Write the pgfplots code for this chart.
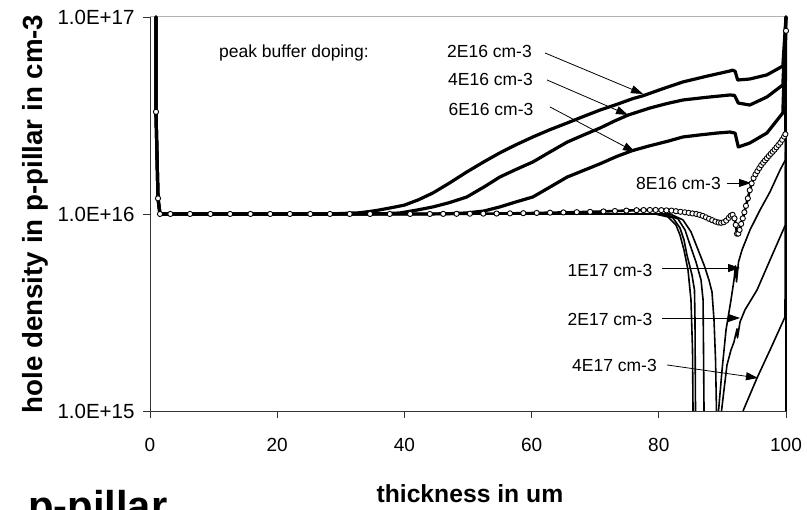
\documentclass[border=0pt]{standalone}
\usepackage{fontspec}
\setmainfont{Liberation Sans}
\usepackage{pgfplots}
\pgfplotsset{compat=1.18}
\usetikzlibrary{arrows.meta}

\newcommand\annfont{\fontsize{17.5bp}{20bp}\selectfont}
\newcommand\xtickfont{\fontsize{19bp}{22bp}\selectfont}
\newcommand\ytickfont{\fontsize{20.5bp}{23bp}\selectfont}
\tikzset{
  thickcurve/.style={black, line width=3.2bp, line join=round, line cap=round},
  thincurve/.style={black, line width=1.6bp, line join=round},
  callout/.style={black, line width=0.8bp, -{Triangle[length=12bp,width=8bp]}},
  calltext/.style={anchor=base, inner sep=0pt, font=\annfont},
}

\begin{document}
\begin{tikzpicture}
\useasboundingbox (0bp,0bp) rectangle (807bp,-510bp);
\begin{axis}[
  at={(150bp,-411bp)}, anchor=south west,
  scale only axis, width=636bp, height=394bp,
  xmin=0, xmax=100, ymin=1e15, ymax=1e17, ymode=log,
  clip=false,
  axis x line*=bottom, axis y line*=left,
  axis line style={black!80, line width=0.9bp},
  xtick={0,20,40,60,80,100}, xticklabels={0,20,40,60,80,100},
  ytick={1e15,1e16,1e17}, yticklabels={1.0E+15,1.0E+16,1.0E+17},
  yminorticks=false, xminorticks=false,
  tick align=outside, major tick length=7bp,
  tick style={black!80, line width=0.9bp},
  xticklabel style={font=\xtickfont, yshift=-17bp},
  yticklabel style={font=\ytickfont, xshift=-5bp},
  xlabel={thickness in um},
  ylabel={hole density in p-pillar in cm-3},
  xlabel style={font=\fontsize{24.7bp}{28bp}\selectfont\bfseries,
    at={(axis description cs:0.503,-0.2335)}, anchor=base},
  ylabel style={font=\fontsize{27.7bp}{30bp}\selectfont\bfseries,
    at={(axis description cs:-0.1698,0.5)}, anchor=base},
]

% frame line along the top of the plot area
\draw[gray!60, line width=1bp] (rel axis cs:0,1) -- (rel axis cs:1,1);

% --- high buffer doping: depletion below 1E15 near the buffer ---
% (unlabelled curve, depletes first)
\addplot[thincurve] coordinates {
 (0.94,1e17) (0.94,3.3e16) (1.26,1.2e16) (1.57,1e16) (79.4,1e16)
 (81.45,9.66e15) (82.70,8.79e15) (83.33,7.82e15) (83.96,6.56e15)
 (84.59,5.20e15) (85.06,3.66e15) (85.30,2.04e15) (85.38,1e15)};
\addplot[thincurve] coordinates {(100,1e15) (100,1e17)};

% 4E17 cm-3
\addplot[thincurve] coordinates {
 (0.94,1e17) (0.94,3.3e16) (1.26,1.2e16) (1.57,1e16) (80.19,1e16)
 (82.23,9.55e15) (83.33,8.49e15) (83.96,7.38e15) (84.43,6.19e15)
 (85.22,4.90e15) (85.61,4.11e15) (85.69,2.90e15) (85.77,1e15)};
\addplot[thincurve] coordinates {
 (93.24,1e15) (95.44,1.47e15) (97.64,2.09e15) (99.84,3.0e15) (100,1e17)};

% 2E17 cm-3
\addplot[thincurve] coordinates {
 (0.94,1e17) (0.94,3.3e16) (1.26,1.2e16) (1.57,1e16) (80.97,1e16)
 (83.02,9.44e15) (84.12,8.30e15) (84.91,6.97e15) (85.85,5.70e15)
 (86.64,4.62e15) (86.96,3.66e15) (87.03,2.04e15) (87.11,1e15)};
\addplot[thincurve] coordinates {
 (89.86,1e15) (90.25,1.28e15) (90.72,1.71e15) (91.35,2.04e15)
 (91.82,2.24e15) (92.30,2.61e15) (92.37,2.35e15) (92.77,2.83e15)
 (93.55,3.26e15) (95.44,4.11e15) (97.48,5.83e15) (99.9,8.79e15) (100,1e17)};

% 1E17 cm-3
\addplot[thincurve] coordinates {
 (0.94,1e17) (0.94,3.3e16) (1.26,1.2e16) (1.57,1e16) (81.76,1e16)
 (83.81,9.33e15) (85.06,8.11e15) (86.01,6.79e15) (87.11,5.51e15)
 (87.89,4.62e15) (88.36,4.02e15) (88.68,2.90e15) (88.92,1.82e15) (89.07,1e15)};
\addplot[thincurve] coordinates {
 (89.39,1e15) (89.94,1.61e15) (90.57,2.58e15) (91.35,3.66e15)
 (91.82,4.62e15) (92.06,5.45e15) (92.22,4.52e15) (92.53,5.70e15)
 (93.08,6.56e15) (94.34,8.30e15) (95.91,1.047e16) (97.48,1.294e16)
 (99.06,1.67e16) (99.9,1.88e16) (100,1e17)};

% --- low buffer doping: accumulation towards the buffer ---
% 6E16 cm-3
\addplot[thickcurve] coordinates {
 (0.94,1e17) (0.94,3.3e16) (1.26,1.2e16) (1.57,1e16) (44,1e16)
 (47,1.003e16) (49.8,1.012e16) (52.5,1.035e16) (55,1.086e16)
 (57.5,1.15e16) (60.2,1.22e16) (62.9,1.37e16) (65.6,1.54e16)
 (68.1,1.66e16) (70.8,1.80e16) (73.4,1.96e16) (75.9,2.10e16)
 (78.6,2.22e16) (81.2,2.33e16) (83.8,2.46e16) (86.5,2.52e16)
 (89.2,2.576e16) (91.2,2.606e16) (92.0,2.57e16) (92.5,2.188e16)
 (94.3,2.291e16) (97.0,2.576e16) (99.5,3.258e16) (100,1e17)};

% 4E16 cm-3
\addplot[thickcurve] coordinates {
 (0.94,1e17) (0.94,3.3e16) (1.26,1.2e16) (1.57,1e16) (34,1e16)
 (37,1.003e16) (39.3,1.012e16) (42,1.047e16) (44.5,1.086e16)
 (47,1.14e16) (49.8,1.219e16) (52.5,1.37e16) (55,1.54e16)
 (57.5,1.68e16) (60.2,1.837e16) (62.9,2.065e16) (65.6,2.317e16)
 (68.2,2.52e16) (70.8,2.735e16) (73,2.96e16) (75.2,3.18e16)
 (78.6,3.45e16) (81.2,3.63e16) (83.8,3.79e16) (87.5,3.91e16)
 (91.2,4.018e16) (91.9,4.0e16) (92.5,3.656e16) (94.3,3.573e16)
 (97.0,3.926e16) (99.5,4.519e16) (100,1e17)};

% 2E16 cm-3
\addplot[thickcurve] coordinates {
 (0.94,1e17) (0.94,3.3e16) (1.26,1.2e16) (1.57,1e16) (28,1e16)
 (30,1.005e16) (33,1.014e16) (35.5,1.04e16) (37.7,1.072e16)
 (40,1.109e16) (42.2,1.18e16) (44.5,1.279e16) (47,1.43e16)
 (49.8,1.633e16) (52.5,1.84e16) (55.0,2.042e16) (57.6,2.25e16)
 (60.2,2.460e16) (62.9,2.68e16) (65.6,2.897e16) (68.2,3.13e16)
 (70.8,3.373e16) (73.4,3.6e16) (75.9,3.85e16) (77.5,3.98e16)
 (80.6,4.32e16) (83.8,4.68e16) (87.5,5.0e16) (91.2,5.32e16)
 (91.6,5.37e16) (92.0,5.30e16) (92.4,4.786e16) (94.3,4.842e16)
 (97.0,5.082e16) (99.5,5.636e16) (100,1e17)};

% 8E16 cm-3 (simulation grid points shown)
\addplot[black, line width=2.6bp, line join=round,
  mark=*, mark size=2.6bp,
  mark options={fill=white, draw=black, line width=0.9bp, solid}] coordinates {
 (0.94,3.3e16) (1.26,1.2e16) (1.57,1e16) (3.2,1e16) (6.3,1e16)
 (9.5,1e16) (12.6,1e16) (15.8,1e16) (18.9,1e16) (22.0,1e16)
 (25.2,1e16) (28.3,1e16) (31.4,1e16) (34.6,1e16) (37.7,1e16)
 (40.9,1e16) (44.0,1e16) (46.1,1.001e16) (48.2,1.002e16)
 (50.3,1.003e16) (52.4,1.004e16) (54.5,1.005e16) (56.6,1.007e16)
 (58.7,1.009e16) (60.8,1.012e16) (62.9,1.015e16) (65.0,1.018e16)
 (67.1,1.021e16) (69.2,1.025e16) (71.3,1.03e16) (73.1,1.035e16)
 (74.9,1.04e16) (76.5,1.045e16) (77.6,1.047e16) (78.6,1.048e16)
 (79.5,1.048e16) (80.4,1.046e16) (81.2,1.043e16) (82.0,1.04e16)
 (82.7,1.033e16) (83.4,1.026e16) (84.1,1.02e16) (84.7,1.013e16)
 (85.3,1.006e16) (85.9,1.0e16) (86.4,9.9e15) (86.9,9.78e15)
 (87.4,9.62e15) (87.9,9.45e15) (88.4,9.3e15) (88.9,9.15e15)
 (89.4,9.05e15) (89.8,9.02e15) (90.2,9.08e15) (90.6,9.25e15)
 (91.0,9.55e15) (91.3,9.8e15) (91.6,9.9e15) (91.9,9.5e15)
 (92.1,8.8e15) (92.3,7.94e15) (92.5,7.95e15) (92.7,8.3e15)
 (92.95,8.9e15) (93.2,9.5e15) (93.45,1.02e16) (93.7,1.1e16)
 (94.0,1.2e16) (94.3,1.32e16) (94.6,1.43e16) (94.9,1.52e16)
 (95.2,1.59e16) (95.5,1.65e16) (95.8,1.71e16) (96.1,1.77e16)
 (96.4,1.82e16) (96.7,1.87e16) (97.0,1.92e16) (97.3,1.97e16)
 (97.6,2.02e16) (97.9,2.07e16) (98.2,2.12e16) (98.5,2.18e16)
 (98.8,2.24e16) (99.1,2.30e16) (99.4,2.38e16) (99.7,2.47e16)
 (99.9,2.54e16) (100,8.51e16)};

% --- curve labels ---
\node[calltext, anchor=base west] at (rel axis cs:0.1085,0.8959) {peak buffer doping:};
\node[calltext] at (rel axis cs:0.5338,0.8959) {2E16 cm-3};
\node[calltext] at (rel axis cs:0.5354,0.8249) {4E16 cm-3};
\node[calltext] at (rel axis cs:0.5362,0.7487) {6E16 cm-3};
\node[calltext] at (rel axis cs:0.8310,0.5609) {8E16 cm-3};
\node[calltext] at (rel axis cs:0.7233,0.3401) {1E17 cm-3};
\node[calltext] at (rel axis cs:0.7233,0.2157) {2E17 cm-3};
\node[calltext] at (rel axis cs:0.7303,0.0990) {4E17 cm-3};

\draw[callout] (rel axis cs:0.6211,0.9086) -- (rel axis cs:0.7752,0.8046);
\draw[callout] (rel axis cs:0.6242,0.8401) -- (rel axis cs:0.7516,0.7513);
\draw[callout] (rel axis cs:0.6289,0.7716) -- (rel axis cs:0.7626,0.6574);
\draw[callout] (rel axis cs:0.9072,0.5787) -- (rel axis cs:0.9450,0.5787);
\draw[callout] (rel axis cs:0.8050,0.3629) -- (rel axis cs:0.9277,0.3629);
\draw[callout] (rel axis cs:0.8050,0.2360) -- (rel axis cs:0.9277,0.2360);
\draw[callout] (rel axis cs:0.8129,0.1168) -- (rel axis cs:0.9560,0.0838);
\end{axis}

\node[anchor=base west, inner sep=0pt, font=\fontsize{41.7bp}{44bp}\selectfont\bfseries]
  at (28bp,-520bp) {p-pillar};
\end{tikzpicture}
\end{document}
